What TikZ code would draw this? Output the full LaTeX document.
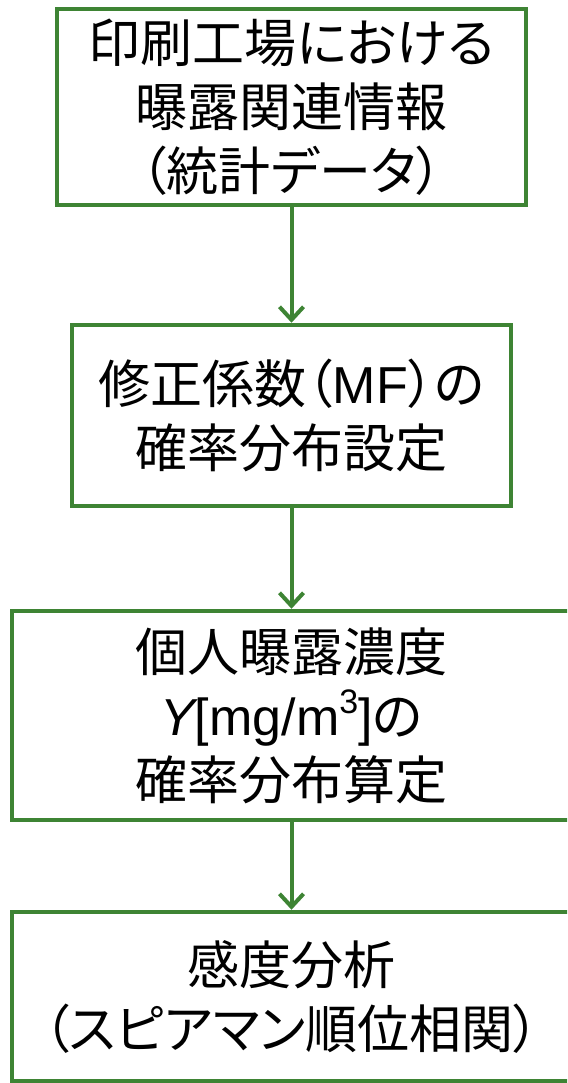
\documentclass[tikz,border=0pt]{standalone}
\usepackage{fontspec}
\setmainfont{Liberation Sans}
\newfontfamily\jp[RawFeature=+palt]{Noto Sans CJK JP}
\newfontfamily\lat{Liberation Sans}
\usetikzlibrary{arrows.meta}
\definecolor{boxgreen}{RGB}{62,132,52}
\tikzset{
  flowbox/.style={draw=boxgreen, line width=4.5pt, fill=white, align=center,
    inner sep=0pt, font=\jp\fontsize{52}{64}\selectfont},
  flowarrow/.style={draw=boxgreen, line width=4pt,
    -{Straight Barb[length=13pt,width=24pt,line width=4pt]}}
}
\begin{document}
\begin{tikzpicture}[x=1pt,y=-1pt]
\useasboundingbox (0,0) rectangle (567,1083);
\clip (0,0) rectangle (567,1083);
\node[flowbox, minimum width=469pt, minimum height=196pt] (b1) at (291.5,107)
  {印刷工場における\\曝露関連情報\\（統計データ）};
\node[flowbox, minimum width=439pt, minimum height=181pt] (b2) at (291.5,415.5)
  {修正係数（{\lat MF}）の\\確率分布設定};
\node[flowbox, minimum width=559pt, minimum height=209pt] (b3) at (291.5,715.5)
  {個人曝露濃度\\{\lat\itshape Y\upshape[mg/m\raisebox{0.42em}{\fontsize{34}{34}\selectfont 3}]}の\\確率分布算定};
\node[flowbox, minimum width=559pt, minimum height=169pt] (b4) at (291.5,996.5)
  {感度分析\\（スピアマン順位相関）};
\draw[flowarrow] (b1.south) -- (b2.north);
\draw[flowarrow] (b2.south) -- (b3.north);
\draw[flowarrow] (b3.south) -- (b4.north);
\end{tikzpicture}
\end{document}
